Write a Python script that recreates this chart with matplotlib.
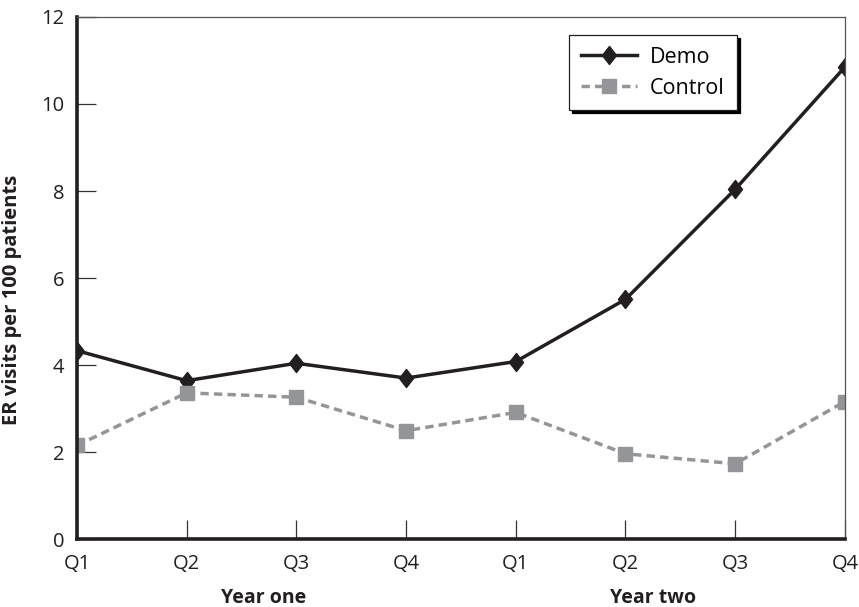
import numpy as np
import matplotlib
matplotlib.use("Agg")
import matplotlib.pyplot as plt
from matplotlib.path import Path

plt.rcParams["font.family"] = ["Open Sans", "DejaVu Sans"]

# ── Data ─────────────────────────────────────────────────────────────────────
quarters = ["Q1", "Q2", "Q3", "Q4", "Q1", "Q2", "Q3", "Q4"]
demo     = [4.33, 3.64, 4.04, 3.70, 4.08, 5.51, 8.04, 10.85]
control  = [2.15, 3.36, 3.26, 2.49, 2.91, 1.96, 1.73, 3.16]
years    = ["Year one", "Year two"]
year_pos = [1.7, 5.25]
yticks   = [0, 2, 4, 6, 8, 10, 12]

INK  = "#231f20"
GREY = "#939598"

# slightly tall diamond like the original print
diamond = Path([(0, 1), (0.78, 0), (0, -1), (-0.78, 0), (0, 1)],
               [Path.MOVETO, Path.LINETO, Path.LINETO, Path.LINETO, Path.CLOSEPOLY])

# ── Plot ─────────────────────────────────────────────────────────────────────
fig = plt.figure(figsize=(8.59, 6.07), dpi=100, facecolor="white")
ax = fig.add_axes([0.0896, 0.112, 0.894, 0.860])

x = np.arange(len(quarters))
ax.plot(x, demo, color=INK, linewidth=2.5, marker=diamond, markersize=13,
        label="Demo")
ax.plot(x, control, color=GREY, linewidth=2.5, linestyle=(0, (2.4, 1.5)),
        marker="s", markersize=9.5, label="Control")

ax.set_xlim(0, len(quarters) - 1)
ax.set_ylim(0, 12)
ax.set_xticks(x)
ax.set_xticklabels(quarters)
ax.set_yticks(yticks)
ax.tick_params(direction="in", length=14, width=0.9, color="#333333",
               labelsize=14.5, colors=INK)
ax.tick_params(axis="x", pad=11)
ax.tick_params(axis="y", pad=9)

for s in ["left", "bottom"]:
    ax.spines[s].set_linewidth(2.6)
    ax.spines[s].set_color(INK)
for s in ["top", "right"]:
    ax.spines[s].set_linewidth(0.9)
    ax.spines[s].set_color("#555555")

ax.set_ylabel("ER visits per 100 patients", fontsize=14.5, fontweight="bold",
              color=INK)
ax.yaxis.set_label_coords(-0.071, 0.458)

for name, pos in zip(years, year_pos):
    ax.text(pos, -0.113, name, transform=ax.get_xaxis_transform(),
            ha="center", va="center", fontsize=14, fontweight="bold",
            color=INK)

leg = ax.legend(loc="upper right", bbox_to_anchor=(0.859, 0.9655),
                borderaxespad=0, fontsize=15.5, frameon=True, fancybox=False,
                handlelength=2.6, borderpad=0.55, labelspacing=0.45,
                handletextpad=0.6,
                shadow={"ox": 2.2, "oy": -2.2, "color": "black", "alpha": 1})
leg.get_frame().set_edgecolor(INK)
leg.get_frame().set_linewidth(0.9)
leg.get_frame().set_alpha(1)

plt.savefig("out.png", dpi=100, facecolor="white")
